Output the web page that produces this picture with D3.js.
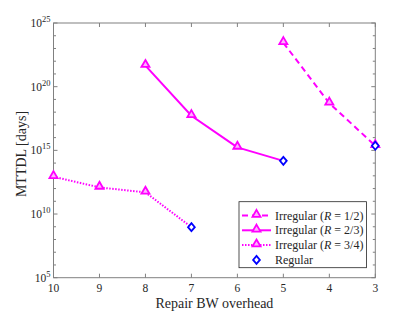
<!DOCTYPE html>
<html>
<head>
<meta charset="utf-8">
<script src="https://cdn.jsdelivr.net/npm/d3@7"></script>
<style>
  body { margin: 0; background: #fff; }
</style>
</head>
<body>
<script>
// data
const xHalf = [5, 4, 3]
const yHalf = [2.8e23, 5e18, 2.3e15]
const xTwoThirds = [8, 7, 6]
const yTwoThirds = [4.5e21, 5.2e17, 1.7e15]
const xThreeQuarters = [10, 9, 8]
const yThreeQuarters = [8.5e12, 1.23e12, 5e11]
const xRegular = [7, 5, 3]
const yRegular = [9.3e8, 1.5e14, 2.3e15]
const xTicks = [10, 9, 8, 7, 6, 5, 4, 3]
const yTicks = [5, 10, 15, 20, 25]

const W = 415, H = 312
const m = { left: 53.5, right: 375.3, top: 23, bottom: 277.7 }
const magenta = '#ff00ff'
const axisColor = '#808080'

const svg = d3.select('body').append('svg')
    .attr('width', W).attr('height', H)
    .attr('font-family', '"Liberation Serif", "Times New Roman", "DejaVu Serif", serif')

const x = d3.scaleLinear().domain([10, 3]).range([m.left, m.right])
const y = d3.scaleLog().domain([1e5, 1e25]).range([m.bottom, m.top])

// ticks on all four sides, inward
const axes = svg.append('g').attr('stroke', axisColor).attr('stroke-width', 1)
xTicks.forEach(t => {
    axes.append('line').attr('x1', x(t)).attr('x2', x(t)).attr('y1', m.bottom).attr('y2', m.bottom - 4)
    axes.append('line').attr('x1', x(t)).attr('x2', x(t)).attr('y1', m.top).attr('y2', m.top + 4)
})
for (let e = 5; e <= 25; e++) {
    const len = (e % 5 === 0) ? 4 : 2.5
    axes.append('line').attr('x1', m.left).attr('x2', m.left + len).attr('y1', y(10 ** e)).attr('y2', y(10 ** e))
    axes.append('line').attr('x1', m.right).attr('x2', m.right - len).attr('y1', y(10 ** e)).attr('y2', y(10 ** e))
}
axes.append('rect')
    .attr('x', m.left).attr('y', m.top)
    .attr('width', m.right - m.left).attr('height', m.bottom - m.top)
    .attr('fill', 'none')

// tick labels
svg.append('g').selectAll('text')
    .data(xTicks)
    .join('text')
    .attr('x', d => x(d)).attr('y', m.bottom + 14)
    .attr('text-anchor', 'middle')
    .attr('font-size', 11.5)
    .attr('fill', '#262626')
    .text(d => d)

const yl = svg.append('g').selectAll('text')
    .data(yTicks)
    .join('text')
    .attr('x', m.left - 3).attr('y', d => y(10 ** d) + 4)
    .attr('text-anchor', 'end')
    .attr('font-size', 11.5)
    .attr('fill', '#262626')
yl.append('tspan').text('10')
yl.append('tspan').attr('dy', -5).attr('font-size', 8.5).text(d => d)

// axis titles
svg.append('text')
    .attr('x', (m.left + m.right) / 2).attr('y', 307.5)
    .attr('text-anchor', 'middle')
    .attr('font-size', 14)
    .attr('fill', '#262626')
    .text('Repair BW overhead')

svg.append('text')
    .attr('transform', 'translate(26,154) rotate(-90)')
    .attr('text-anchor', 'middle')
    .attr('font-size', 14)
    .attr('fill', '#262626')
    .text('MTTDL [days]')

const series = [
    { xs: xHalf, ys: yHalf, dash: '6,4' },
    { xs: xTwoThirds, ys: yTwoThirds, dash: null },
    { xs: xThreeQuarters, ys: yThreeQuarters, dash: '1.5,1.5' }
]

// matlab-like diamond, a bit wider than d3's
const wideDiamond = {
    draw(ctx, size) {
        const h = Math.sqrt(size) * 0.85, w = h * 0.85
        ctx.moveTo(0, -h); ctx.lineTo(w, 0); ctx.lineTo(0, h); ctx.lineTo(-w, 0); ctx.closePath()
    }
}

const line = d3.line().x(d => x(d[0])).y(d => y(d[1]))
const tri = d3.symbol().type(d3.symbolTriangle).size(28)
const dia = d3.symbol().type(wideDiamond).size(22)

series.forEach(s => {
    const pts = s.xs.map((v, i) => [v, s.ys[i]])
    svg.append('path')
        .datum(pts)
        .attr('d', line)
        .attr('fill', 'none')
        .attr('stroke', magenta)
        .attr('stroke-width', 2)
        .attr('stroke-dasharray', s.dash)
})

// regular points connect the series ends
const reg = xRegular.map((v, i) => [v, yRegular[i]])
svg.append('path')
    .datum([[8, yThreeQuarters[2]], reg[0]])
    .attr('d', line).attr('fill', 'none')
    .attr('stroke', magenta).attr('stroke-width', 2).attr('stroke-dasharray', '1.5,1.5')
svg.append('path')
    .datum([[6, yTwoThirds[2]], reg[1]])
    .attr('d', line).attr('fill', 'none')
    .attr('stroke', magenta).attr('stroke-width', 2)

series.forEach(s => {
    svg.append('g').selectAll('path')
        .data(s.xs.map((v, i) => [v, s.ys[i]]))
        .join('path')
        .attr('d', tri)
        .attr('transform', d => 'translate(' + x(d[0]) + ',' + (y(d[1]) - 1) + ')')
        .attr('fill', '#ffb3ff')
        .attr('stroke', magenta)
        .attr('stroke-width', 1.8)
})

svg.append('g').selectAll('path')
    .data(reg)
    .join('path')
    .attr('d', dia)
    .attr('transform', d => 'translate(' + x(d[0]) + ',' + y(d[1]) + ')')
    .attr('fill', '#fff')
    .attr('stroke', '#0000ff')
    .attr('stroke-width', 1.8)

// legend
const lg = svg.append('g')
lg.append('rect')
    .attr('x', 239).attr('y', 201.7).attr('width', 127.5).attr('height', 66)
    .attr('fill', '#fff').attr('stroke', '#262626').attr('stroke-width', 0.8)

const legendItems = [
    { r: '1/2', dash: '6,4' },
    { r: '2/3', dash: null },
    { r: '3/4', dash: '1.5,1.5' }
]
legendItems.forEach((it, i) => {
    const ly = 215.5 + i * 14.8
    lg.append('line')
        .attr('x1', 242).attr('x2', 271).attr('y1', ly).attr('y2', ly)
        .attr('stroke', magenta).attr('stroke-width', 2)
        .attr('stroke-dasharray', it.dash)
    lg.append('path').attr('d', tri)
        .attr('transform', 'translate(256.5,' + (ly - 1) + ')')
        .attr('fill', '#ffb3ff').attr('stroke', magenta).attr('stroke-width', 1.8)
    const t = lg.append('text')
        .attr('x', 275).attr('y', ly + 4)
        .attr('font-size', 12).attr('fill', '#262626')
    t.append('tspan').text('Irregular (')
    t.append('tspan').attr('font-style', 'italic').text('R')
    t.append('tspan').text(' = ' + it.r + ')')
})
const ry = 215.5 + 3 * 14.8
lg.append('path').attr('d', dia)
    .attr('transform', 'translate(256.5,' + ry + ')')
    .attr('fill', '#fff').attr('stroke', '#0000ff').attr('stroke-width', 1.8)
lg.append('text')
    .attr('x', 275).attr('y', ry + 4)
    .attr('font-size', 12).attr('fill', '#262626')
    .text('Regular')
</script>
</body>
</html>
